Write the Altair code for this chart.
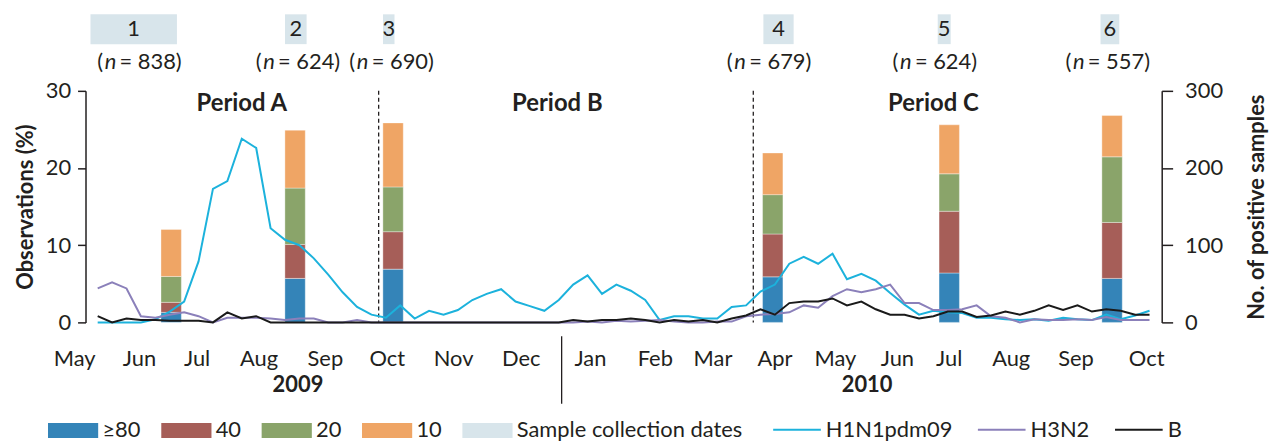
import altair as alt
import pandas as pd

FONT = "Lato"
TXT = "#231f20"

# ---------------- data ----------------
# weekly number of positive samples (right axis), week 0 = first week of May 2009
h1n1 = [0, 0, 0, 0, 4, 14, 27, 79, 173, 183, 238, 226, 122, 107, 100, 83, 62, 39, 20, 10,
        6, 22, 5, 15, 10, 16, 29, 37, 43, 27, 21, 15, 29, 49, 61, 37, 49, 41, 29, 3,
        8, 8, 5, 5, 20, 22, 40, 49, 76, 85, 76, 89, 56, 63, 54, 38, 23, 10, 15, 13,
        12, 6, 6, 4, 3, 4, 2, 6, 4, 3, 10, 4, 9, 15]
h3n2 = [44, 52, 44, 8, 6, 10, 13, 8, 0, 6, 6, 6, 5, 3, 5, 5, 0, 0, 3, 0,
        0, 0, 0, 0, 0, 0, 0, 0, 0, 0, 0, 0, 0, 0, 1, 0, 2, 1, 2, 3,
        1, 0, 0, 1, 1, 8, 10, 11, 13, 22, 19, 34, 43, 39, 43, 49, 25, 25, 16, 16,
        17, 22, 8, 6, 0, 4, 3, 3, 4, 3, 7, 3, 3, 3]
flu_b = [8, 0, 5, 3, 3, 2, 2, 2, 0, 13, 5, 8, 0, 0, 0, 0, 0, 0, 0, 0,
         0, 0, 0, 0, 0, 0, 0, 0, 0, 0, 0, 0, 0, 3, 1, 3, 3, 5, 3, 0,
         3, 1, 3, 0, 5, 9, 17, 10, 25, 27, 27, 31, 22, 27, 17, 10, 10, 5, 8, 14,
         14, 7, 9, 14, 10, 15, 22, 16, 22, 14, 17, 15, 10, 10]
virus_names = ["H1N1pdm09", "H3N2", "B"]
virus_colors = ["#1cb2dc", "#8b80ba", "#1a1a1a"]

# stacked bars: observations (%) per titre category at each sampling
sample_week = [5.6, 14.2, 21.0, 47.35, 59.6, 70.9]
pct_ge80 = [1.3, 5.7, 6.9, 5.9, 6.4, 5.7]
pct_40 = [1.3, 4.4, 4.85, 5.55, 8.0, 7.25]
pct_20 = [3.35, 7.3, 5.8, 5.1, 4.85, 8.5]
pct_10 = [6.1, 7.5, 8.3, 5.4, 6.35, 5.35]
titre_names = ["≥80", "40", "20", "10", "Sample collection dates"]
titre_colors = ["#3484b8", "#a65e58", "#8aa46a", "#efa565", "#d8e5eb"]

# sample collection windows (weeks)
coll_start = [0.0, 13.5, 20.3, 46.7, 58.8, 70.1]
coll_end = [6.0, 15.0, 21.1, 48.8, 59.7, 71.4]
coll_label = ["1", "2", "3", "4", "5", "6"]
coll_n = [838, 624, 690, 679, 624, 557]
coll_n_pos = [3.5, 14.5, 21.0, 47.2, 58.7, 70.7]

# month tick labels and year labels
month_names = ["May", "Jun", "Jul", "Aug", "Sep", "Oct", "Nov", "Dec", "Jan", "Feb",
               "Mar", "Apr", "May", "Jun", "Jul", "Aug", "Sep", "Oct"]
month_pos = [-1.1, 3.4, 7.4, 11.7, 16.3, 20.6, 25.2, 29.9, 34.7, 39.2,
             43.2, 47.5, 51.7, 56.0, 59.6, 63.9, 68.4, 73.3]
year_names = ["2009", "2010"]
year_pos = [14.4, 53.9]
year_sep = [32.7]

period_names = ["Period A", "Period B", "Period C"]
period_pos = [10.5, 32.4, 58.5]
period_bounds = [20.0, 46.0]

# ---------------- tables ----------------
lines_df = pd.DataFrame({
    "week": list(range(len(h1n1))) * 3,
    "n": h1n1 + h3n2 + flu_b,
    "virus": [virus_names[0]] * len(h1n1) + [virus_names[1]] * len(h3n2) + [virus_names[2]] * len(flu_b),
})
rows = []
for s, xc in enumerate(sample_week):
    for r, (cat, vals) in enumerate(zip(titre_names[:4], [pct_ge80, pct_40, pct_20, pct_10])):
        rows.append({"xc": xc, "cat": cat, "val": vals[s], "rank": r})
bars_df = pd.DataFrame(rows)
coll_df = pd.DataFrame({"x0": coll_start, "x1": coll_end, "lab": coll_label,
                        "npos": coll_n_pos, "cat": titre_names[4],
                        "nrest": [f"= {v})" for v in coll_n]})
months_df = pd.DataFrame({"pos": month_pos, "name": month_names})
years_df = pd.DataFrame({"pos": year_pos, "name": year_names})
sep_df = pd.DataFrame({"pos": year_sep})
periods_df = pd.DataFrame({"pos": period_pos, "name": period_names})
bounds_df = pd.DataFrame({"pos": period_bounds})

W, H = 1083, 233
FS = 22
xs = alt.Scale(domain=[0, 74], nice=False, zero=False)
fill_scale = alt.Scale(domain=titre_names, range=titre_colors)

bars = alt.Chart(bars_df).mark_bar(width=20.5, stroke="#ffffff", strokeWidth=0.6, strokeOpacity=0.6).encode(
    x=alt.X("xc:Q", scale=xs, axis=alt.Axis(values=list(range(0, 75, 2)), labels=False, title=None,
                                            tickSize=7, grid=False)),
    y=alt.Y("val:Q", stack="zero", scale=alt.Scale(domain=[0, 30], nice=False),
            axis=alt.Axis(values=[0, 10, 20, 30], title="Observations (%)", titlePadding=8,
                          labelPadding=7, tickSize=8, grid=False)),
    fill=alt.Fill("cat:N", scale=fill_scale,
                  legend=alt.Legend(title=None, orient="none", legendX=-38, legendY=316,
                                    direction="horizontal", columns=5, columnPadding=20,
                                    symbolType="M-1,-0.3H1V0.3H-1Z", symbolSize=2550,
                                    symbolStrokeWidth=0, labelOffset=4, labelFontSize=FS,
                                    labelLimit=0)),
    order=alt.Order("rank:Q", sort="ascending"),
)

coll_boxes = alt.Chart(coll_df).mark_rect().encode(
    x=alt.X("x0:Q", scale=xs, axis=None), x2="x1",
    y=alt.value(-77), y2=alt.value(-47),
    fill=alt.Fill("cat:N", scale=fill_scale),
)
coll_text = alt.Chart(coll_df).transform_calculate(mid="(datum.x0 + datum.x1) / 2").mark_text(
    font=FONT, fontSize=FS, color=TXT, baseline="middle").encode(
    x=alt.X("mid:Q", scale=xs, axis=None), y=alt.value(-62), text="lab:N")
n_open = alt.Chart(coll_df).mark_text(font=FONT, fontSize=FS, color=TXT, baseline="middle",
                                      align="left", dx=-44).encode(
    x=alt.X("npos:Q", scale=xs, axis=None), y=alt.value(-29), text=alt.value("("))
n_ital = alt.Chart(coll_df).mark_text(font=FONT, fontSize=FS, color=TXT, baseline="middle",
                                      align="left", dx=-36.5, fontStyle="italic").encode(
    x=alt.X("npos:Q", scale=xs, axis=None), y=alt.value(-29), text=alt.value("n"))
n_rest = alt.Chart(coll_df).mark_text(font=FONT, fontSize=FS, color=TXT, baseline="middle",
                                      align="left", dx=-21.5).encode(
    x=alt.X("npos:Q", scale=xs, axis=None), y=alt.value(-29), text="nrest:N")

bounds = alt.Chart(bounds_df).mark_rule(color=TXT, strokeWidth=1.3, strokeDash=[4, 3]).encode(
    x=alt.X("pos:Q", scale=xs, axis=None), y=alt.value(0), y2=alt.value(H))
period_text = alt.Chart(periods_df).mark_text(font=FONT, fontSize=24, fontWeight="bold", color=TXT,
                                              baseline="middle").encode(
    x=alt.X("pos:Q", scale=xs, axis=None), y=alt.value(13), text="name:N")
month_text = alt.Chart(months_df).mark_text(font=FONT, fontSize=FS, color=TXT, baseline="middle").encode(
    x=alt.X("pos:Q", scale=xs, axis=None), y=alt.value(270), text="name:N")
year_text = alt.Chart(years_df).mark_text(font=FONT, fontSize=FS, fontWeight="bold", color=TXT,
                                          baseline="middle").encode(
    x=alt.X("pos:Q", scale=xs, axis=None), y=alt.value(296), text="name:N")
year_rule = alt.Chart(sep_df).mark_rule(color=TXT, strokeWidth=1.3).encode(
    x=alt.X("pos:Q", scale=xs, axis=None), y=alt.value(247), y2=alt.value(315))

left_group = alt.layer(bars, coll_boxes, coll_text, n_open, n_ital, n_rest, bounds,
                       period_text, month_text, year_text, year_rule)

lines = alt.Chart(lines_df).transform_calculate(x="datum.week + 0.5").mark_line(strokeWidth=2).encode(
    x=alt.X("x:Q", scale=xs, axis=None),
    y=alt.Y("n:Q", scale=alt.Scale(domain=[0, 300], nice=False),
            axis=alt.Axis(orient="right", values=[0, 100, 200, 300], title="No. of positive samples",
                          titleAngle=270, titleBaseline="top", titlePadding=24, labelPadding=12,
                          tickSize=11, grid=False)),
    stroke=alt.Stroke("virus:N", scale=alt.Scale(domain=virus_names, range=virus_colors),
                      legend=alt.Legend(title=None, orient="none", legendX=691, legendY=316,
                                        direction="horizontal", columns=3, columnPadding=21,
                                        symbolType="stroke", symbolSize=2300, symbolStrokeWidth=2,
                                        labelOffset=4, labelFontSize=FS, labelLimit=0)),
)

chart = alt.layer(left_group, lines).resolve_scale(y="independent").properties(
    width=W, height=H,
    padding={"left": 78, "top": 82, "right": 112, "bottom": 119},
    autosize=alt.AutoSizeParams(type="none"),
).configure_view(stroke=None).configure_axis(
    labelFont=FONT, titleFont=FONT, labelColor=TXT, titleColor=TXT, labelFontSize=FS,
    titleFontSize=FS, titleFontWeight="bold", domainColor=TXT, tickColor=TXT,
    domainWidth=1.5, tickWidth=1.5,
).configure_legend(labelFont=FONT, labelColor=TXT)

chart.save("out.html", embed_options={"renderer": "svg", "actions": False})
